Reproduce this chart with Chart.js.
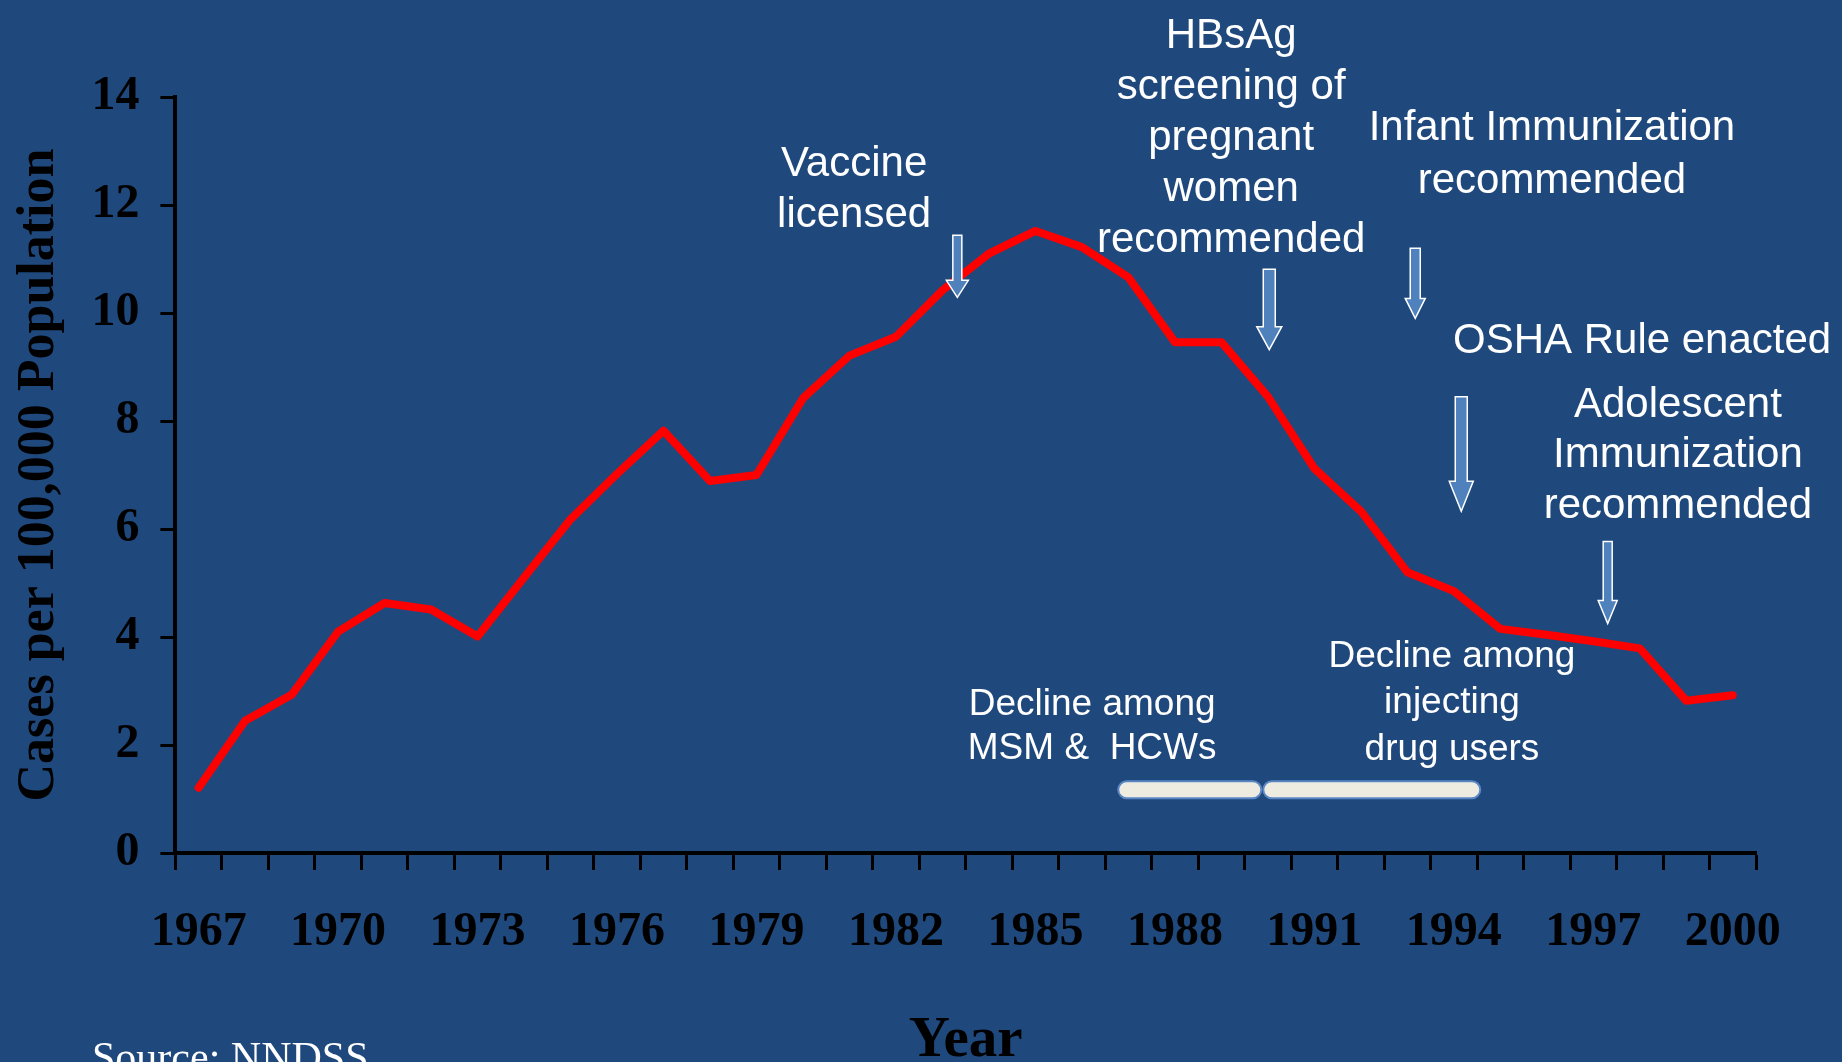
<!DOCTYPE html>
<html>
<head>
<meta charset="utf-8">
<script src="https://cdn.jsdelivr.net/npm/chart.js@4.4.1/dist/chart.umd.min.js"></script>
<style>
  html, body { margin: 0; padding: 0; overflow: hidden; background: #1F497D; }
  #wrap { width: 1842px; height: 1100px; position: relative; }
</style>
</head>
<body>
<div id="wrap"><canvas id="grafico"></canvas></div>
<script>
// Hepatitis B incidence, cases per 100,000 population (NNDSS)
const years = ['1967', '1968', '1969', '1970', '1971', '1972', '1973', '1974', '1975', '1976',
  '1977', '1978', '1979', '1980', '1981', '1982', '1983', '1984', '1985', '1986',
  '1987', '1988', '1989', '1990', '1991', '1992', '1993', '1994', '1995', '1996',
  '1997', '1998', '1999', '2000'];
const rates = [1.21, 2.45, 2.93, 4.10, 4.63, 4.51, 4.01, 5.10, 6.18, 7.02,
  7.82, 6.89, 7.00, 8.42, 9.21, 9.56, 10.42, 11.10, 11.52, 11.22,
  10.66, 9.46, 9.46, 8.45, 7.12, 6.33, 5.20, 4.85, 4.15, 4.04,
  3.92, 3.79, 2.82, 2.92];
const yearLabels = ['1967', '1970', '1973', '1976', '1979', '1982', '1985', '1988', '1991', '1994', '1997', '2000'];

// Annotation texts: year / value of the first baseline
const notes = [
  { year: 1981.10, value: 12.53, lh: 51, size: 42, lines: ['Vaccine', 'licensed'] },
  { year: 1989.21, value: 14.91, lh: 51, size: 42, lines: ['HBsAg', 'screening of', 'pregnant', 'women', 'recommended'] },
  { year: 1996.11, value: 13.20, lh: 53, size: 42, lines: ['Infant Immunization', 'recommended'] },
  { year: 1998.05, value: 9.26, lh: 51, size: 42, lines: ['OSHA Rule enacted'] },
  { year: 1998.82, value: 8.08, lh: 50.5, size: 42, lines: ['Adolescent', 'Immunization', 'recommended'] },
  { year: 1986.22, value: 2.56, lh: 44, size: 37, lines: ['Decline among', 'MSM &  HCWs'] },
  { year: 1993.96, value: 3.45, lh: 46.5, size: 37, lines: ['Decline among', 'injecting', 'drug users'] }
];

// Block arrows pointing at the policy years
const arrows = [
  { year: 1983.32, from: 11.44, to: 10.29, shaft: 9, head: 22, headLen: 17 },
  { year: 1990.03, from: 10.81, to: 9.32, shaft: 12, head: 25, headLen: 23 },
  { year: 1993.17, from: 11.20, to: 9.90, shaft: 10, head: 20, headLen: 20 },
  { year: 1994.16, from: 8.45, to: 6.33, shaft: 12, head: 24, headLen: 30 },
  { year: 1997.31, from: 5.77, to: 4.25, shaft: 9, head: 19, headLen: 23 }
];

// Decline periods (pill bars)
const declines = [
  { from: 1986.76, to: 1989.88, value: 1.17 },
  { from: 1989.88, to: 1994.59, value: 1.17 }
];

const serif = 'Liberation Serif, Times New Roman, serif';
const sans = 'Liberation Sans, Arial, sans-serif';

const anotacoes = {
  id: 'anotacoes',
  afterDatasetsDraw(chart) {
    const { ctx, scales: { x, y } } = chart;
    const px = yr => x.getPixelForValue(yr - Number(years[0]));
    ctx.save();

    declines.forEach(d => {
      const x0 = px(d.from), x1 = px(d.to), yc = y.getPixelForValue(d.value), h = 17;
      ctx.beginPath();
      ctx.roundRect(x0 + 1, yc - h / 2, x1 - x0 - 2, h, h / 2);
      ctx.fillStyle = '#EEECE1';
      ctx.fill();
      ctx.lineWidth = 2;
      ctx.strokeStyle = '#5B87C5';
      ctx.stroke();
    });

    arrows.forEach(a => {
      const cx = px(a.year), top = y.getPixelForValue(a.from), tip = y.getPixelForValue(a.to);
      const neck = tip - a.headLen;
      ctx.beginPath();
      ctx.moveTo(cx - a.shaft / 2, top);
      ctx.lineTo(cx + a.shaft / 2, top);
      ctx.lineTo(cx + a.shaft / 2, neck);
      ctx.lineTo(cx + a.head / 2, neck);
      ctx.lineTo(cx, tip);
      ctx.lineTo(cx - a.head / 2, neck);
      ctx.lineTo(cx - a.shaft / 2, neck);
      ctx.closePath();
      ctx.fillStyle = '#4F81BD';
      ctx.fill();
      ctx.lineWidth = 1.5;
      ctx.strokeStyle = '#FFFFFF';
      ctx.stroke();
    });

    ctx.fillStyle = '#FFFFFF';
    ctx.textAlign = 'center';
    ctx.textBaseline = 'alphabetic';
    notes.forEach(n => {
      ctx.font = n.size + 'px ' + sans;
      const cx = px(n.year), y0 = y.getPixelForValue(n.value);
      n.lines.forEach((t, i) => ctx.fillText(t, cx, y0 + i * n.lh));
    });

    ctx.textAlign = 'left';
    ctx.font = '42px ' + serif;
    ctx.fillText('Source: NNDSS', 92, 1071);
    ctx.restore();
  }
};

const tickFont = { family: serif, size: 48, weight: 'bold' };

new Chart(document.getElementById('grafico'), {
  type: 'line',
  data: {
    labels: years,
    datasets: [{
      label: 'Cases per 100,000 Population',
      data: rates,
      borderColor: '#FF0000',
      borderWidth: 8,
      borderCapStyle: 'round',
      borderJoinStyle: 'round',
      pointRadius: 0,
      tension: 0,
      fill: false
    }]
  },
  options: {
    responsive: true,
    maintainAspectRatio: false,
    devicePixelRatio: 1,
    animation: false,
    layout: { padding: { top: 97, right: 86, left: 8, bottom: 25 } },
    plugins: {
      legend: { display: false },
      tooltip: { enabled: false }
    },
    scales: {
      x: {
        type: 'category',
        offset: true,
        ticks: {
          autoSkip: false,
          maxRotation: 0,
          minRotation: 0,
          color: '#000',
          font: tickFont,
          padding: 34,
          callback: function (val) {
            const l = this.getLabelForValue(val);
            return yearLabels.includes(l) ? l : '';
          }
        },
        grid: { offset: true, drawOnChartArea: false, tickLength: 17, tickColor: '#000', tickWidth: 3 },
        border: { display: true, color: '#000', width: 4 },
        title: {
          display: true,
          text: 'Year',
          color: '#000',
          font: { family: serif, size: 57, weight: 'bold' },
          padding: { top: 11, bottom: 0 }
        }
      },
      y: {
        min: 0,
        max: 14,
        ticks: { stepSize: 2, color: '#000', font: tickFont, padding: 21 },
        grid: { drawOnChartArea: false, tickLength: 15, tickColor: '#000', tickWidth: 3 },
        border: { display: true, color: '#000', width: 4 },
        title: {
          display: true,
          text: 'Cases per 100,000 Population',
          color: '#000',
          font: { family: serif, size: 52, weight: 'bold' },
          padding: { top: 0, bottom: 0 }
        }
      }
    }
  },
  plugins: [anotacoes]
});
</script>
</body>
</html>
